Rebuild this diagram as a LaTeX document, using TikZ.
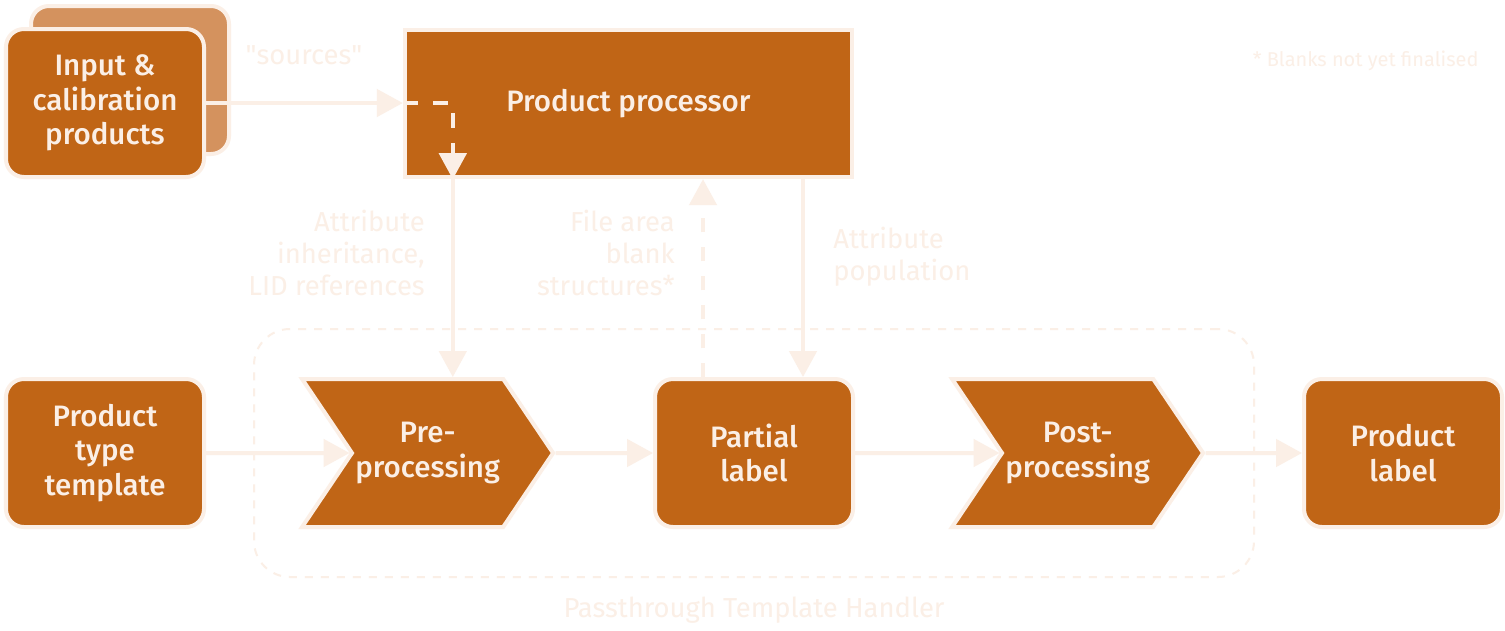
\documentclass[tikz,border=0pt]{standalone}
\usepackage{fontspec}
\setmainfont{Fira Sans}[BoldFont={Fira Sans Medium}]
\usepackage{tikz}
\usetikzlibrary{calc,shapes,positioning}
\usetikzlibrary{arrows.meta}
\definecolor{rust}{RGB}{192,101,22}
\definecolor{cream}{RGB}{251,239,230}
\definecolor{tan}{RGB}{212,146,94}

\begin{document}
\begin{tikzpicture}[>={Triangle[length=0.65cm,width=0.68cm]}]
    \tikzstyle{bnode} = [draw=cream, fill=rust, line width=0.1cm, rounded corners=0.45cm, minimum width=4.95cm, minimum height=3.7cm, align=center, text=cream, font=\fontsize{21}{24.4}\selectfont\bfseries, inner sep=2pt]
    \tikzstyle{cnode} = [bnode, sharp corners, signal, signal from=west, signal to=east, signal pointer angle=112, minimum width=6.275cm]
    \tikzstyle{lnode} = [text=cream, align=right, inner sep=0pt, font=\fontsize{19.5}{22.8}\selectfont]
    \tikzstyle{conn} = [cream, line width=0.1cm, ->]

    \fill[white] (0,0) rectangle (37.625,-15.75);
    \useasboundingbox (0,0) rectangle (37.625,-15.75);

    % passthrough frame
    \node[draw=cream, line width=0.05cm, dash pattern=on 0.2cm off 0.2cm, rounded corners=0.9cm, minimum width=25cm, minimum height=6.2cm] (pth) at (18.85,-11.325) {};
    \node[lnode] (pthl) at (18.85,-15.25) {Passthrough Template Handler};

    \node[bnode, fill=tan] (inpb) at (3.25,-2.0) {};
    \node[bnode] (inp) at (2.625,-2.575) {Input \&\\calibration\\products};
    \node[bnode, sharp corners, minimum width=11.18cm, minimum height=3.68cm] (proc) at (15.71,-2.59) {Product processor};

    \node[bnode] (ptt) at (2.625,-11.325) {Product\\type\\template};
    \node[cnode] (pre) at (10.69,-11.325) {Pre-\\processing};
    \node[bnode] (part) at (18.85,-11.325) {Partial\\label};
    \node[cnode] (post) at (26.94,-11.325) {Post-\\processing};
    \node[bnode] (prod) at (35.075,-11.325) {Product\\label};

    \node[lnode] (srcl) at (7.6,-1.375) {\textquotedbl sources\textquotedbl};
    \node[lnode, anchor=east] (inhl) at (10.625,-6.325) {Attribute\\inheritance,\\LID references};
    \node[lnode, anchor=east] (blkl) at (16.875,-6.325) {File area\\blank\\structures*};
    \node[lnode, anchor=west, align=left] (popl) at (20.825,-6.425) {Attribute\\population};
    \node[lnode, font=\fontsize{14.2}{17}\selectfont] (note) at (34.14,-1.525) {* Blanks not yet finalised};

    \coordinate (tap) at ($(proc.south west)+(1.25,0)$);
    \coordinate (up) at ($(part.north)+(-1.275,0)$);
    \coordinate (dn) at ($(part.north)+(1.225,0)$);

    \draw[conn] (inp.east) -- (inp.east -| proc.west);
    \draw[conn, dash pattern=on 0.375cm off 0.375cm] (inp.east -| proc.west) -| (tap);
    \draw[conn] (tap) -- (tap |- pre.north);
    \draw[conn, dash pattern=on 0.35cm off 0.375cm] (up) -- (up |- proc.south);
    \draw[conn] (dn |- proc.south) -- (dn);

    \draw[conn] (ptt) -- (pre);
    \draw[conn] (pre) -- (part);
    \draw[conn] (part) -- (post);
    \draw[conn] (post) -- (prod);
\end{tikzpicture}
\end{document}
